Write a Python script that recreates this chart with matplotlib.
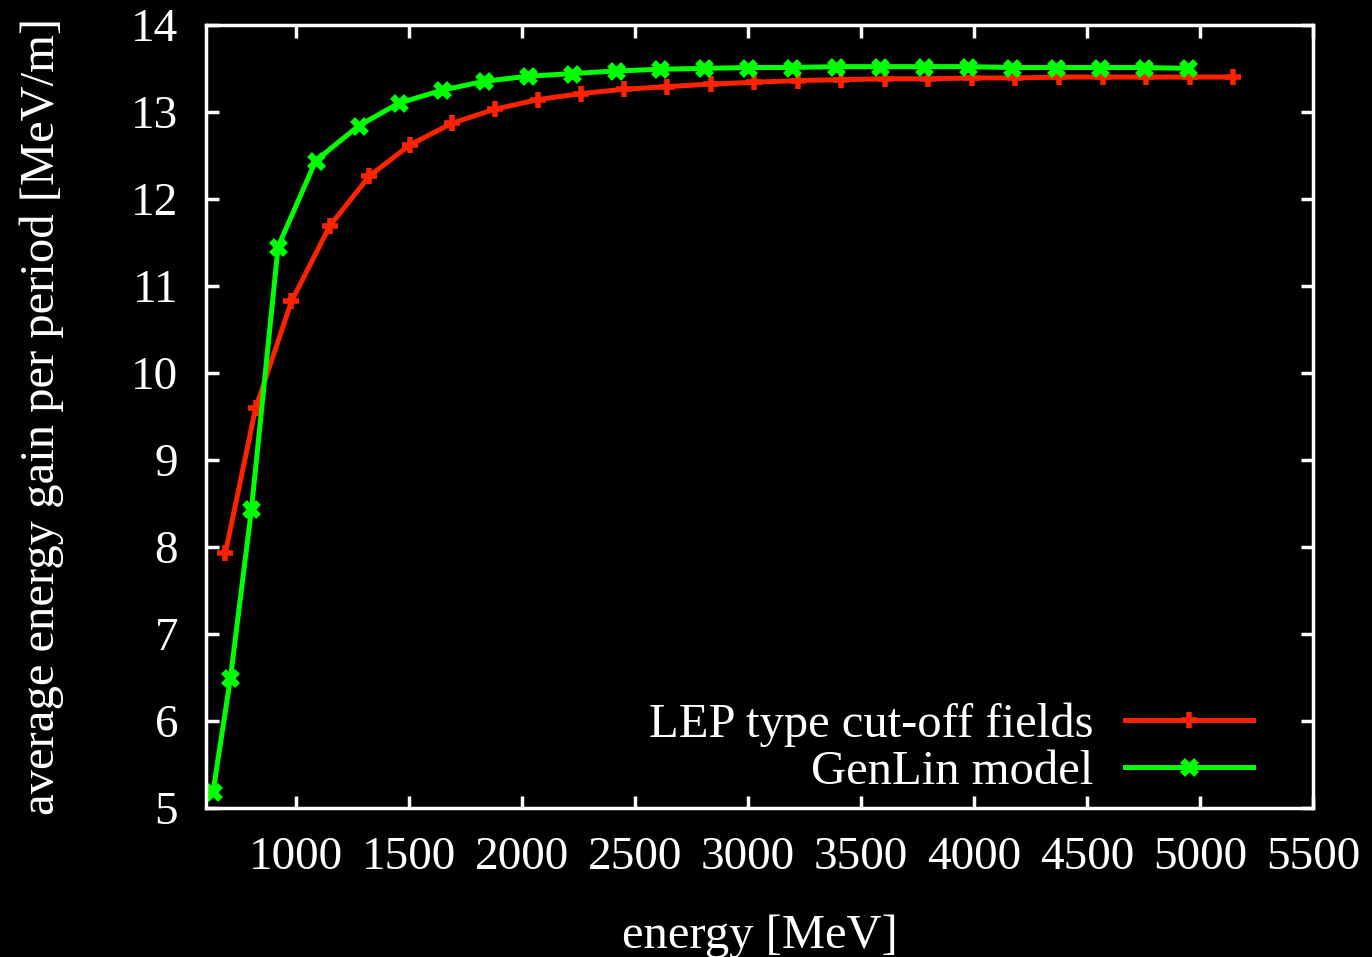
import matplotlib
matplotlib.use("Agg")
import matplotlib.pyplot as plt

# LEP type cut-off fields
lep_energy = [687, 820, 979, 1149, 1323, 1503, 1690, 1879, 2068, 2259,
              2451, 2643, 2836, 3028, 3220, 3412, 3606, 3798, 3990, 4183,
              4377, 4570, 4761, 4956, 5148]
lep_gain = [7.93, 9.59, 10.82, 11.69, 12.26, 12.62, 12.87, 13.03, 13.14, 13.21,
            13.26, 13.29, 13.32, 13.34, 13.36, 13.37, 13.38, 13.38, 13.39, 13.39,
            13.40, 13.40, 13.40, 13.40, 13.40]

# GenLin model
gen_energy = [632, 709, 802, 920, 1087, 1277, 1455, 1646, 1830, 2026,
              2221, 2416, 2610, 2805, 3000, 3194, 3387, 3582, 3777, 3973,
              4168, 4362, 4557, 4752, 4945]
gen_gain = [5.18, 6.49, 8.43, 11.45, 12.44, 12.84, 13.10, 13.25, 13.35, 13.41,
            13.44, 13.47, 13.49, 13.50, 13.51, 13.51, 13.52, 13.52, 13.52, 13.52,
            13.51, 13.51, 13.51, 13.51, 13.50]

xticks = [1000, 1500, 2000, 2500, 3000, 3500, 4000, 4500, 5000, 5500]
yticks = [5, 6, 7, 8, 9, 10, 11, 12, 13, 14]

plt.rcParams['font.family'] = ['Liberation Serif', 'DejaVu Serif']
fs = 35
tfs = 34

fig = plt.figure(figsize=(13.72, 9.57), dpi=100, facecolor='black')
ax = fig.add_axes([0.150, 0.156, 0.807, 0.818], facecolor='black')

ax.plot(lep_energy, lep_gain, color='#ff2200', lw=3.6, marker='+',
        ms=11, mew=4, label='LEP type cut-off fields')
ax.plot(gen_energy, gen_gain, color='#00ff00', lw=3.6, marker='x',
        ms=10, mew=5, label='GenLin model')

ax.set_xlim(600, 5500)
ax.set_ylim(5, 14)
ax.set_xticks(xticks)
ax.set_yticks(yticks)

for s in ax.spines.values():
    s.set_color('white')
    s.set_linewidth(2.5)
ax.tick_params(colors='white', direction='in', length=9, width=2.5,
               labelsize=tfs, top=True, right=True)
ax.tick_params(axis='y', pad=20)
ax.tick_params(axis='x', pad=21)

ax.set_xlabel('energy [MeV]', color='white', fontsize=fs, labelpad=25)
ax.set_ylabel('average energy gain per period [MeV/m]', color='white',
              fontsize=fs, labelpad=48)

leg = ax.legend(loc='lower right', frameon=False, markerfirst=False,
                fontsize=fs, handlelength=2.63, labelspacing=0.06,
                borderpad=0, borderaxespad=0, handletextpad=0.66,
                bbox_to_anchor=(0.946, 0.017))
for t in leg.get_texts():
    t.set_color('white')

fig.savefig('out.png', dpi=100, facecolor='black')
